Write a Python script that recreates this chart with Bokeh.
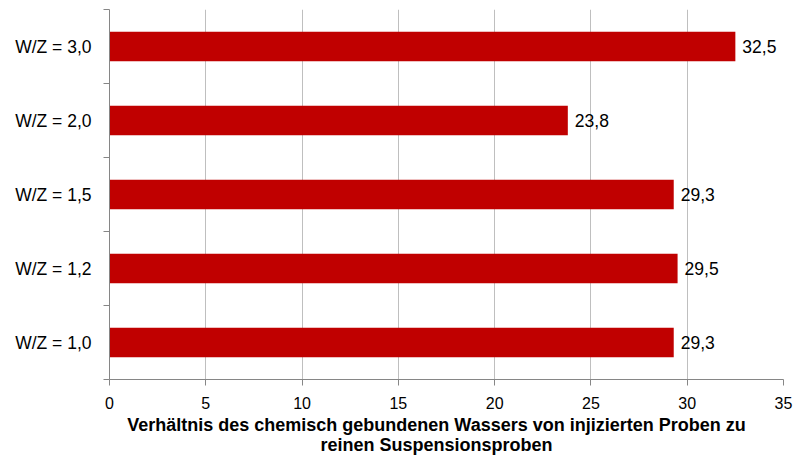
from bokeh.plotting import figure
from bokeh.models import ColumnDataSource, FixedTicker, Range1d
from bokeh.core.properties import value
from bokeh.embed import file_html
from bokeh.resources import INLINE

# Water/cement ratios, listed bottom to top
categories = ["W/Z = 1,0", "W/Z = 1,2", "W/Z = 1,5", "W/Z = 2,0", "W/Z = 3,0"]
ratios = [29.3, 29.5, 29.3, 23.8, 32.5]
x_ticks = [0, 5, 10, 15, 20, 25, 30, 35]
x_title_lines = ["Verhältnis des chemisch gebundenen Wassers von injizierten Proben zu",
                 "reinen Suspensionsproben"]

FONT = "Liberation Sans"
positions = [i + 0.5 for i in range(len(categories))]
labels = [f"{v:.1f}".replace(".", ",") for v in ratios]

src = ColumnDataSource(data=dict(y=positions, v=ratios, lab=labels))

p = figure(width=795, height=457, output_backend="svg", toolbar_location=None,
           x_range=Range1d(0, 35), y_range=Range1d(0, len(categories)),
           min_border_left=109, min_border_right=12, min_border_top=9,
           min_border_bottom=77)
p.outline_line_color = None
p.background_fill_color = "white"
p.border_fill_color = "white"

p.hbar(y="y", left=0, right="v", height=0.4, source=src,
       fill_color="#c00000", line_color=None)
p.text(x="v", y="y", text="lab", source=src, x_offset=7,
       text_baseline="middle", text_align="left",
       text_font=value(FONT), text_font_size="17.5px", text_color="#000000")

# x axis; trailing no-break spaces nudge the centred title slightly left
pad = "\u00a0" * 4
p.xaxis.ticker = FixedTicker(ticks=x_ticks)
p.xaxis.axis_line_color = "#868686"
p.xaxis.major_tick_line_color = "#868686"
p.xaxis.major_tick_out = 6
p.xaxis.major_tick_in = 0
p.xaxis.minor_tick_line_color = None
p.xaxis.major_label_text_font = FONT
p.xaxis.major_label_text_font_size = "16px"
p.xaxis.major_label_text_color = "#000000"
p.xaxis.major_label_standoff = 11
p.xaxis.axis_label = "\n".join(line + pad for line in x_title_lines)
p.xaxis.axis_label_text_font = FONT
p.xaxis.axis_label_text_font_style = "bold"
p.xaxis.axis_label_text_font_size = "18px"
p.xaxis.axis_label_text_line_height = 1.0
p.xaxis.axis_label_text_color = "#000000"
p.xaxis.axis_label_standoff = 3

# y axis: labels at band centres, ticks at band boundaries
p.yaxis.ticker = FixedTicker(ticks=positions,
                             minor_ticks=list(range(len(categories) + 1)))
p.yaxis.major_label_overrides = {pos: c for pos, c in zip(positions, categories)}
p.yaxis.axis_line_color = "#868686"
p.yaxis.major_tick_line_color = None
p.yaxis.minor_tick_line_color = "#868686"
p.yaxis.minor_tick_out = 6
p.yaxis.minor_tick_in = 0
p.yaxis.major_label_text_font = FONT
p.yaxis.major_label_text_font_size = "17.5px"
p.yaxis.major_label_text_color = "#000000"
p.yaxis.major_label_standoff = 12

p.xgrid.grid_line_color = "#bfbfbf"
p.xgrid.grid_line_width = 1
p.ygrid.grid_line_color = None

open("out.html", "w").write(file_html(p, INLINE))
